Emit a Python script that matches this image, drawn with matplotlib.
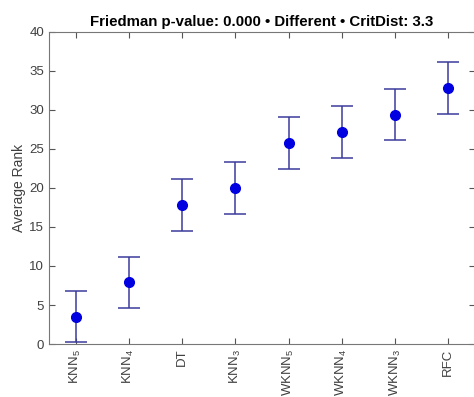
import numpy as np
import matplotlib
matplotlib.use("Agg")
from matplotlib import pyplot as plt

plt.rcParams['font.family'] = ['Liberation Sans', 'DejaVu Sans']
plt.rcParams['mathtext.fontset'] = 'custom'
plt.rcParams['mathtext.rm'] = 'Liberation Sans'
plt.rcParams['mathtext.it'] = 'Liberation Sans'

# average ranks per classifier, with critical-distance error bars
labels = ['KNN$_5$', 'KNN$_4$', 'DT', 'KNN$_3$', 'WKNN$_5$', 'WKNN$_4$', 'WKNN$_3$', 'RFC']
ranks = [3.5, 7.9, 17.8, 20.0, 25.8, 27.2, 29.4, 32.8]
errs = [3.3, 3.3, 3.35, 3.35, 3.35, 3.3, 3.3, 3.3]

fig = plt.figure(figsize=(4.74, 3.97), dpi=100)
ax = fig.add_axes([0.1034, 0.1335, 0.8986, 0.7859])

x = np.arange(1, len(labels) + 1)
ax.errorbar(x, ranks, yerr=errs, fmt='o', color='#0000e0', ecolor='#3b3b9c',
            elinewidth=1.1, capsize=8, capthick=1.1, markersize=7)

ax.set_xlim(0.5, 8.5)
ax.set_ylim(0, 40)
ax.set_yticks(np.arange(0, 41, 5))
ax.set_xticks(x)
ax.set_xticklabels(labels, rotation=90)
ax.tick_params(direction='in', top=True, right=True, colors='#555555',
               labelcolor='#404040', labelsize=9.5, length=4)
for s in ax.spines.values():
    s.set_color('#777777')
ax.set_ylabel('Average Rank', fontsize=10, color='#404040', labelpad=2)
ax.set_title('Friedman p-value: 0.000 \u2022 Different \u2022 CritDist: 3.3',
             fontsize=10.8, fontweight='bold', pad=4)

plt.savefig('out.png', dpi=100)
